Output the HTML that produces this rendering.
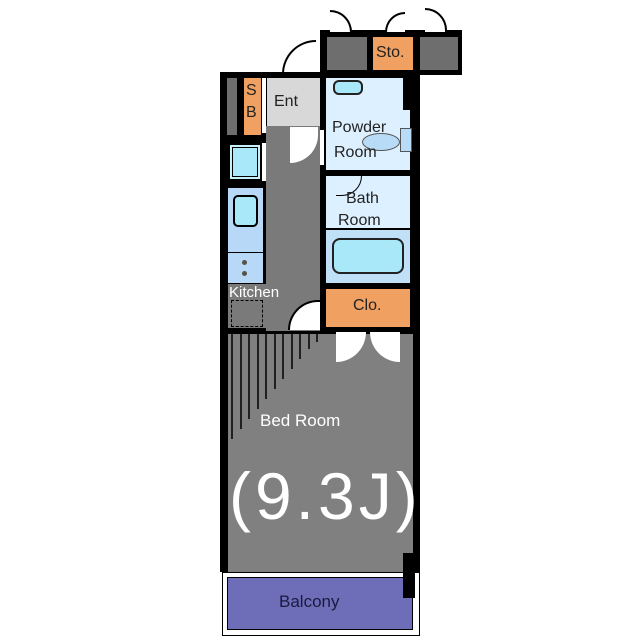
<!DOCTYPE html>
<html><head><style>
body{margin:0;width:640px;height:640px;background:#fff;position:relative;overflow:hidden;font-family:"Liberation Sans",sans-serif}
div{position:absolute;box-sizing:border-box}
.t{font-size:16px;color:#222;white-space:nowrap}
</style></head><body>
<div style="left:320px;top:30px;width:142px;height:45px;background:#000"></div>
<div style="left:327px;top:37px;width:40px;height:33px;background:#6e6e6e"></div>
<div style="left:373px;top:37px;width:40px;height:33px;background:#f0a060"></div>
<div class="t" style="left:376px;top:44px">Sto.</div>
<div style="left:420px;top:37px;width:38px;height:33px;background:#6e6e6e"></div>
<div style="left:330px;top:10px;width:22px;height:22px;border:2px solid #000;border-bottom:none;border-left:none;border-radius:0 22px 0 0;background:#fff"></div>
<div style="left:385px;top:12px;width:20px;height:20px;border:2px solid #000;border-bottom:none;border-right:none;border-radius:20px 0 0 0;background:#fff"></div>
<div style="left:425px;top:8px;width:22px;height:24px;border:2px solid #000;border-bottom:none;border-left:none;border-radius:0 22px 0 0;background:#fff"></div>
<div style="left:282px;top:40px;width:34px;height:34px;border:2px solid #000;border-bottom:none;border-right:none;border-radius:34px 0 0 0;background:#fff"></div>
<div style="left:220px;top:72px;width:200px;height:500px;background:#000"></div>
<div style="left:227px;top:78px;width:10px;height:57px;background:#6e6e6e"></div>
<div style="left:244px;top:78px;width:17px;height:57px;background:#f0a060"></div>
<div class="t" style="left:246px;top:80px;line-height:22px;font-size:16px">S<br>B</div>
<div style="left:262px;top:78px;width:4px;height:55px;background:#fff"></div>
<div style="left:267px;top:78px;width:53px;height:48px;background:#d8d8d8"></div>
<div class="t" style="left:274px;top:93px">Ent</div>
<div style="left:266px;top:126px;width:54px;height:205px;background:#7a7a7a"></div>
<div style="left:290px;top:127px;width:28px;height:36px;background:#fff;border-radius:0 0 28px 0"></div>
<div style="left:288px;top:300px;width:32px;height:30px;background:#fff;border-radius:32px 0 0 0;border-top:2px solid #000;border-left:2px solid #000"></div>
<div style="left:228px;top:143px;width:34px;height:38px;background:#c8f0f8;border:2px solid #000"></div>
<div style="left:232px;top:147px;width:26px;height:30px;background:#a8e8f8;border:1px solid #000"></div>
<div style="left:262px;top:143px;width:4px;height:38px;background:#fff"></div>
<div style="left:228px;top:188px;width:35px;height:64px;background:#b8d8f8"></div>
<div style="left:233px;top:195px;width:25px;height:32px;background:#a8e8f8;border:2px solid #000;border-radius:5px"></div>
<div style="left:228px;top:253px;width:35px;height:30px;background:#b8d8f8"></div>
<div style="left:242px;top:260px;width:5px;height:5px;background:#554;border-radius:50%"></div>
<div style="left:242px;top:271px;width:5px;height:5px;background:#554;border-radius:50%"></div>
<div style="left:228px;top:284px;width:38px;height:44px;background:#7a7a7a"></div>
<div style="left:231px;top:300px;width:32px;height:27px;border:1px dashed #000"></div>
<div class="t" style="left:229px;top:284px;color:#fff;font-size:15px">Kitchen</div>
<div style="left:326px;top:78px;width:84px;height:92px;background:#ddf0ff"></div>
<div style="left:403px;top:78px;width:10px;height:32px;background:#000"></div>
<div style="left:333px;top:80px;width:30px;height:15px;background:#a8e8f8;border:2px solid #222;border-radius:6px"></div>
<div style="left:362px;top:133px;width:38px;height:18px;background:#b8dcf8;border:1px solid #555;border-radius:50%"></div>
<div style="left:400px;top:128px;width:12px;height:24px;background:#b8dcf8;border:1px solid #555"></div>
<div class="t" style="left:332px;top:119px">Powder</div>
<div class="t" style="left:334px;top:144px">Room</div>
<div style="left:320px;top:130px;width:4px;height:35px;background:#fff"></div>
<div style="left:326px;top:176px;width:84px;height:52px;background:#ddf0ff"></div>
<div style="left:336px;top:176px;width:26px;height:20px;border-right:1px solid #000;border-bottom:1px solid #000;border-radius:0 0 26px 0"></div>
<div class="t" style="left:346px;top:190px">Bath</div>
<div class="t" style="left:338px;top:212px">Room</div>
<div style="left:326px;top:230px;width:84px;height:53px;background:#c0e0f8"></div>
<div style="left:332px;top:238px;width:72px;height:36px;background:#a8e8f8;border:2px solid #222;border-radius:8px"></div>
<div style="left:326px;top:289px;width:84px;height:38px;background:#f0a060"></div>
<div class="t" style="left:353px;top:297px">Clo.</div>
<div style="left:228px;top:334px;width:185px;height:238px;background:#808080"></div>
<div style="left:336px;top:332px;width:30px;height:30px;background:#fff;border-radius:0 0 30px 0"></div>
<div style="left:370px;top:332px;width:30px;height:30px;background:#fff;border-radius:0 0 0 30px"></div>
<svg style="position:absolute;left:228px;top:334px" width="100" height="110">
<g stroke="#000" stroke-width="1.5">
<line x1="4" y1="0" x2="4" y2="105"/><line x1="13" y1="0" x2="13" y2="95"/><line x1="21" y1="0" x2="21" y2="85"/><line x1="30" y1="0" x2="30" y2="75"/><line x1="38" y1="0" x2="38" y2="65"/><line x1="47" y1="0" x2="47" y2="55"/><line x1="55" y1="0" x2="55" y2="45"/><line x1="64" y1="0" x2="64" y2="35"/><line x1="72" y1="0" x2="72" y2="25"/><line x1="81" y1="0" x2="81" y2="15"/><line x1="89" y1="0" x2="89" y2="8"/>
</g></svg>
<div class="t" style="left:260px;top:411px;color:#fff;font-size:17px">Bed Room</div>
<div class="t" style="left:229px;top:458px;color:#fff;font-size:66px;letter-spacing:4px">(9.3J)</div>
<div style="left:403px;top:553px;width:12px;height:45px;background:#000"></div>
<div style="left:222px;top:572px;width:198px;height:64px;background:#fff;border:1px solid #000"></div>
<div style="left:227px;top:577px;width:186px;height:53px;background:#6e6eb8;border:1px solid #000"></div>
<div style="left:403px;top:572px;width:12px;height:26px;background:#000"></div>
<div style="left:255px;top:574px;width:55px;height:2px;background:#fff"></div>
<div style="left:320px;top:574px;width:55px;height:2px;background:#fff"></div>
<div class="t" style="left:279px;top:592px;color:#1a1a40;font-size:17px">Balcony</div>
</body></html>
